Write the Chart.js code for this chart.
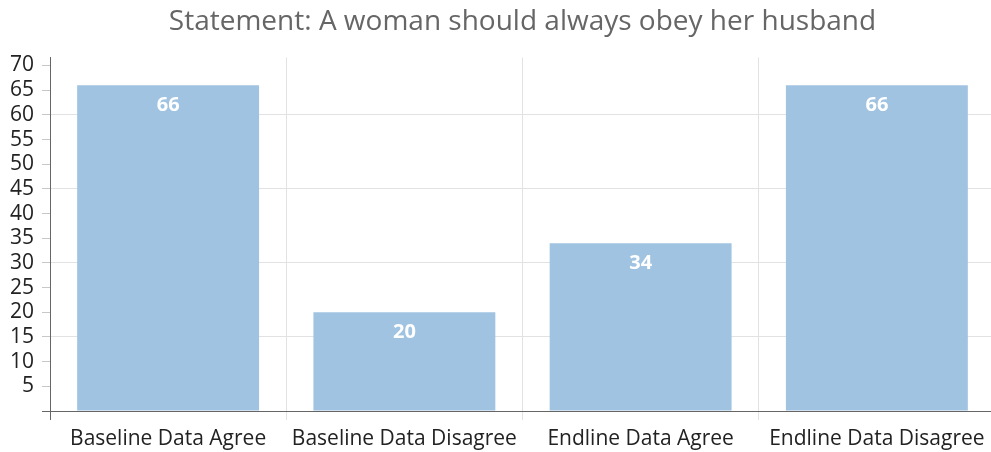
<!DOCTYPE html>
<html>
<head>
<meta charset="utf-8">
<script src="https://cdn.jsdelivr.net/npm/chart.js@4"></script>
<style>
  html, body { margin: 0; padding: 0; background: #fff; overflow: hidden; }
  #wrap { width: 995px; height: 452px; position: relative; }
</style>
</head>
<body>
<div id="wrap"><canvas id="chart"></canvas></div>
<script>
// Survey responses to the statement, baseline vs endline
const categories = ['Baseline Data Agree', 'Baseline Data Disagree', 'Endline Data Agree', 'Endline Data Disagree'];
const percentages = [66, 20, 34, 66];
const chartTitle = 'Statement: A woman should always obey her husband';

const FONT = "'Open Sans', sans-serif";
const BAR_COLOR = '#a0c3e2';
const AXIS_COLOR = '#666666';
const GRID_COLOR = '#e2e2e2';

// White value labels just inside the top of each bar
const barValueLabels = {
  id: 'barValueLabels',
  afterDatasetsDraw(chart) {
    const { ctx } = chart;
    const meta = chart.getDatasetMeta(0);
    ctx.save();
    ctx.fillStyle = '#ffffff';
    ctx.font = `bold 20px ${FONT}`;
    ctx.textAlign = 'center';
    ctx.textBaseline = 'middle';
    meta.data.forEach((bar, i) => {
      ctx.fillText(String(percentages[i]), bar.x, bar.y + 20);
    });
    ctx.restore();
  }
};

new Chart(document.getElementById('chart'), {
  type: 'bar',
  data: {
    labels: categories,
    datasets: [{
      data: percentages,
      backgroundColor: BAR_COLOR,
      borderWidth: 0,
      categoryPercentage: 1,
      barPercentage: 0.77
    }]
  },
  options: {
    responsive: true,
    maintainAspectRatio: false,
    animation: false,
    layout: { padding: { left: 0, right: 0, top: 0, bottom: 0 } },
    plugins: {
      legend: { display: false },
      tooltip: { enabled: false },
      title: {
        display: true,
        fullSize: false,
        text: chartTitle,
        color: '#666666',
        font: { family: FONT, size: 28, weight: 'normal', lineHeight: 1.2 },
        padding: { top: 5, bottom: 19 }
      }
    },
    scales: {
      x: {
        offset: true,
        grid: {
          offset: true,
          color: GRID_COLOR,
          tickLength: 9,
          tickColor: (c) => (c.index === 0 ? AXIS_COLOR : GRID_COLOR)
        },
        border: { color: AXIS_COLOR, width: 1 },
        ticks: {
          color: '#222222',
          font: { family: FONT, size: 21 },
          padding: 6,
          maxRotation: 0,
          autoSkip: false
        },
        afterFit(scale) { scale.height = 41; }
      },
      y: {
        min: 0,
        max: 71.6,
        grid: {
          tickLength: 8,
          color: (c) => (c.tick && c.tick.value > 0 && c.tick.value % 15 === 0 ? GRID_COLOR : 'rgba(0,0,0,0)'),
          tickColor: (c) => (c.tick && c.tick.value === 0 ? AXIS_COLOR : '#c8c8c8')
        },
        border: { color: AXIS_COLOR, width: 1 },
        ticks: {
          stepSize: 5,
          includeBounds: false,
          autoSkip: false,
          color: '#222222',
          font: { family: FONT, size: 21, lineHeight: 1 },
          padding: 8,
          callback: (v) => (v === 0 ? '' : v)
        },
        afterFit(scale) { scale.width = 50; }
      }
    }
  },
  plugins: [barValueLabels]
});
</script>
</body>
</html>
